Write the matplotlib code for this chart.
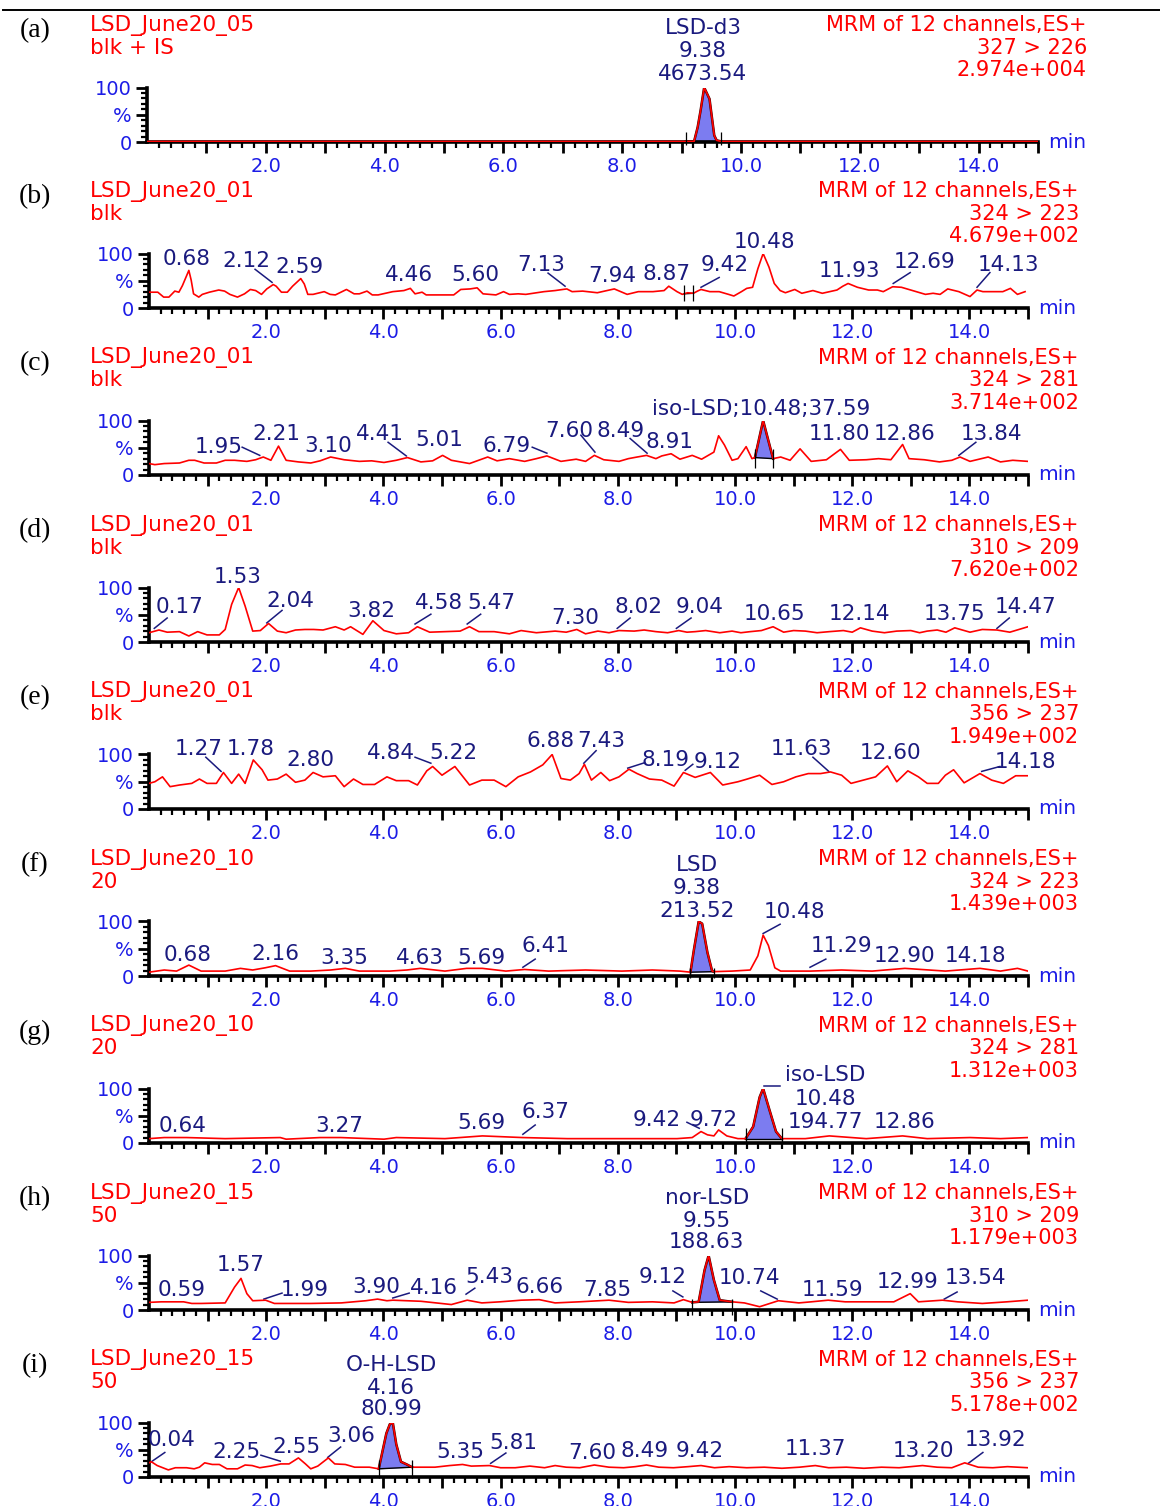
import matplotlib.pyplot as plt
import numpy as np

plt.rcParams['font.family'] = ['DejaVu Sans']

W, H = 1160, 1506
RED = '#ff0000'
NAVY = '#1a1a7e'
BLUE = '#1c1ce6'
FILL = '#7c7cf0'

# retention time (min) and relative intensity (%) of each MRM trace
t_a = [0.0, 9.07, 9.21, 9.27, 9.32, 9.38, 9.47, 9.55, 9.59, 9.67, 15.0]
y_a = [1, 1, 1, 27, 58, 100, 79, 12, 3, 1, 1]

t_b = [0.00, 0.15, 0.25, 0.34, 0.44, 0.51, 0.57, 0.68, 0.72, 0.76,
       0.85, 0.91, 1.03, 1.19, 1.29, 1.38, 1.51, 1.63, 1.73, 1.82,
       1.92, 2.01, 2.12, 2.17, 2.26, 2.36, 2.45, 2.59, 2.65, 2.71,
       2.80, 2.99, 3.09, 3.18, 3.37, 3.50, 3.59, 3.72, 3.81, 3.91,
       4.16, 4.35, 4.46, 4.54, 4.66, 4.73, 4.91, 5.20, 5.32, 5.48,
       5.60, 5.70, 5.92, 6.05, 6.15, 6.30, 6.43, 6.74, 6.93, 7.06,
       7.13, 7.22, 7.40, 7.65, 7.94, 8.16, 8.35, 8.60, 8.79, 8.87,
       9.01, 9.10, 9.19, 9.29, 9.36, 9.42, 9.57, 9.73, 9.89, 9.98,
       10.11, 10.20, 10.30, 10.39, 10.48, 10.58, 10.67, 10.77, 10.86, 11.02,
       11.14, 11.33, 11.49, 11.74, 11.84, 11.93, 12.09, 12.28, 12.43, 12.53,
       12.69, 12.84, 13.03, 13.25, 13.38, 13.50, 13.63, 13.82, 14.01, 14.13,
       14.23, 14.57, 14.70, 14.82, 14.95]
y_b = [29, 29, 20, 20, 31, 29, 41, 69, 51, 26,
       20, 25, 29, 33, 31, 25, 20, 26, 34, 32,
       25, 35, 43, 40, 29, 29, 40, 54, 44, 25,
       25, 30, 25, 24, 34, 26, 26, 31, 24, 24,
       30, 32, 36, 26, 29, 24, 24, 24, 34, 35,
       37, 26, 24, 30, 25, 26, 25, 30, 32, 34,
       35, 30, 31, 28, 35, 25, 30, 30, 32, 40,
       30, 25, 28, 27, 31, 34, 30, 30, 25, 22,
       30, 36, 38, 72, 100, 75, 45, 32, 28, 34,
       27, 32, 27, 33, 40, 45, 38, 33, 33, 30,
       39, 38, 32, 25, 27, 25, 35, 30, 21, 33,
       30, 30, 36, 25, 30]

t_c = [0.00, 0.10, 0.26, 0.52, 0.68, 0.78, 0.94, 1.15, 1.30, 1.46,
       1.67, 1.82, 1.95, 2.08, 2.21, 2.34, 2.55, 2.76, 2.92, 3.10,
       3.33, 3.59, 3.80, 4.01, 4.22, 4.41, 4.64, 4.84, 5.01, 5.16,
       5.47, 5.78, 5.94, 6.15, 6.41, 6.61, 6.79, 7.03, 7.29, 7.45,
       7.60, 7.76, 8.02, 8.18, 8.33, 8.49, 8.65, 8.75, 8.91, 9.06,
       9.27, 9.43, 9.64, 9.72, 9.82, 9.95, 10.05, 10.19, 10.29, 10.34,
       10.48, 10.65, 10.78, 10.94, 11.11, 11.30, 11.56, 11.80, 11.95, 12.24,
       12.45, 12.66, 12.86, 12.97, 13.23, 13.49, 13.70, 13.84, 14.01, 14.32,
       14.53, 14.74, 15.00]
y_c = [21, 19, 21, 22, 27, 27, 22, 22, 27, 27,
       25, 28, 33, 27, 53, 27, 24, 22, 26, 33,
       28, 25, 26, 23, 27, 32, 24, 26, 36, 27,
       21, 33, 26, 30, 25, 30, 35, 25, 29, 25,
       36, 28, 25, 30, 33, 36, 30, 35, 39, 29,
       36, 29, 42, 72, 55, 27, 30, 52, 30, 32,
       100, 30, 33, 27, 48, 25, 28, 47, 27, 28,
       30, 28, 56, 30, 28, 24, 27, 33, 25, 33,
       24, 27, 25]

t_d = [0.00, 0.17, 0.31, 0.52, 0.68, 0.83, 0.99, 1.20, 1.30, 1.41,
       1.53, 1.64, 1.77, 1.90, 2.04, 2.19, 2.34, 2.50, 2.66, 2.81,
       2.97, 3.18, 3.33, 3.44, 3.65, 3.82, 4.01, 4.22, 4.43, 4.58,
       4.79, 5.05, 5.31, 5.47, 5.63, 5.89, 6.15, 6.35, 6.61, 6.93,
       7.12, 7.30, 7.45, 7.66, 7.85, 8.02, 8.28, 8.45, 8.65, 8.85,
       9.04, 9.18, 9.32, 9.50, 9.74, 9.95, 10.10, 10.26, 10.45, 10.65,
       10.83, 11.00, 11.20, 11.40, 11.61, 11.85, 12.00, 12.14, 12.34, 12.55,
       12.76, 13.00, 13.15, 13.28, 13.45, 13.60, 13.75, 14.01, 14.22, 14.47,
       14.69, 15.00]
y_d = [17, 22, 18, 19, 11, 19, 13, 13, 23, 69,
       100, 66, 20, 21, 34, 20, 17, 22, 23, 23,
       22, 28, 22, 28, 14, 39, 21, 15, 17, 28,
       18, 19, 20, 28, 19, 19, 15, 21, 17, 20,
       18, 23, 15, 20, 17, 21, 20, 22, 19, 17,
       21, 18, 19, 21, 17, 20, 17, 19, 21, 28,
       18, 21, 20, 17, 19, 21, 18, 26, 20, 17,
       20, 21, 17, 20, 22, 18, 26, 18, 23, 22,
       18, 28]

t_e = [0.00, 0.10, 0.23, 0.36, 0.52, 0.73, 0.86, 0.99, 1.15, 1.27,
       1.41, 1.53, 1.64, 1.78, 1.93, 2.03, 2.19, 2.34, 2.50, 2.66,
       2.80, 2.97, 3.18, 3.33, 3.49, 3.65, 3.85, 4.06, 4.22, 4.43,
       4.58, 4.74, 4.84, 5.00, 5.22, 5.47, 5.68, 5.89, 6.09, 6.30,
       6.51, 6.72, 6.88, 7.03, 7.19, 7.34, 7.43, 7.55, 7.71, 7.86,
       8.02, 8.19, 8.33, 8.54, 8.75, 8.96, 9.12, 9.32, 9.58, 9.79,
       10.05, 10.21, 10.42, 10.63, 10.83, 11.04, 11.25, 11.46, 11.63, 11.82,
       11.98, 12.19, 12.40, 12.60, 12.76, 12.95, 13.13, 13.28, 13.47, 13.59,
       13.73, 13.91, 14.18, 14.38, 14.58, 14.79, 15.00]
y_e = [47, 50, 59, 41, 44, 47, 55, 47, 47, 67,
       47, 64, 47, 90, 72, 53, 55, 64, 49, 53,
       67, 59, 61, 41, 55, 45, 45, 59, 52, 52,
       44, 70, 78, 62, 78, 44, 53, 53, 41, 59,
       68, 81, 100, 56, 53, 65, 82, 53, 67, 52,
       59, 73, 65, 55, 53, 42, 67, 58, 67, 44,
       50, 55, 62, 45, 50, 59, 65, 65, 68, 62,
       47, 53, 59, 79, 50, 70, 59, 47, 47, 62,
       72, 48, 65, 53, 47, 61, 61]

t_f = [0.00, 0.26, 0.47, 0.68, 0.89, 1.30, 1.56, 1.77, 1.98, 2.16,
       2.40, 2.76, 3.10, 3.35, 3.59, 4.11, 4.40, 4.63, 5.05, 5.42,
       5.69, 6.09, 6.41, 6.82, 7.45, 8.07, 8.59, 9.06, 9.24, 9.30,
       9.38, 9.44, 9.53, 9.61, 9.64, 9.95, 10.26, 10.39, 10.48, 10.57,
       10.68, 10.78, 11.29, 11.82, 12.34, 12.90, 13.59, 14.18, 14.53, 14.82,
       15.00]
y_f = [7, 11, 9, 20, 9, 9, 14, 11, 15, 19,
       9, 9, 11, 14, 9, 9, 11, 14, 9, 14,
       14, 9, 12, 9, 11, 9, 11, 9, 7, 49,
       100, 96, 43, 9, 8, 9, 11, 37, 75, 56,
       15, 9, 9, 11, 9, 14, 9, 14, 9, 14,
       9]

t_g = [0.00, 0.26, 0.64, 1.30, 2.24, 2.34, 2.92, 3.27, 4.01, 4.22,
       5.05, 5.69, 6.37, 7.14, 8.07, 9.01, 9.27, 9.42, 9.53, 9.64,
       9.72, 9.86, 10.05, 10.18, 10.31, 10.42, 10.48, 10.59, 10.70, 10.80,
       11.20, 11.61, 12.24, 12.86, 13.28, 14.01, 14.53, 15.00]
y_g = [8, 10, 10, 8, 10, 7, 10, 10, 7, 10,
       8, 13, 10, 8, 8, 8, 10, 21, 15, 13,
       24, 13, 8, 8, 30, 84, 100, 60, 21, 8,
       8, 13, 8, 13, 8, 10, 8, 10]

t_h = [0.00, 0.21, 0.59, 0.73, 0.89, 1.30, 1.46, 1.57, 1.67, 1.77,
       1.99, 2.14, 2.76, 3.28, 3.70, 3.90, 4.06, 4.16, 4.64, 5.16,
       5.43, 5.68, 5.99, 6.35, 6.66, 6.93, 7.34, 7.85, 8.18, 8.59,
       8.96, 9.12, 9.27, 9.38, 9.48, 9.55, 9.64, 9.74, 9.95, 10.16,
       10.42, 10.74, 11.09, 11.30, 11.59, 11.88, 12.34, 12.71, 12.99, 13.13,
       13.54, 13.80, 14.22, 14.64, 15.00]
y_h = [14, 15, 15, 12, 12, 13, 42, 58, 30, 17,
       18, 12, 12, 13, 17, 20, 17, 18, 16, 10,
       18, 13, 15, 18, 19, 13, 15, 18, 14, 15,
       13, 19, 14, 15, 73, 100, 55, 18, 15, 13,
       6, 17, 13, 15, 18, 15, 15, 15, 30, 15,
       18, 15, 12, 15, 18]

t_i = [0.00, 0.04, 0.14, 0.33, 0.45, 0.64, 0.77, 0.86, 0.95, 1.08,
       1.20, 1.33, 1.51, 1.64, 1.76, 1.89, 2.07, 2.25, 2.39, 2.55,
       2.67, 2.76, 2.88, 3.06, 3.17, 3.35, 3.51, 3.76, 3.92, 3.98,
       4.05, 4.11, 4.16, 4.22, 4.30, 4.40, 4.49, 4.63, 4.88, 5.13,
       5.35, 5.50, 5.81, 6.00, 6.25, 6.50, 6.75, 6.93, 7.12, 7.35,
       7.60, 7.85, 8.10, 8.30, 8.49, 8.70, 8.95, 9.20, 9.42, 9.65,
       9.90, 10.20, 10.50, 10.80, 11.10, 11.37, 11.60, 11.90, 12.20, 12.50,
       12.80, 13.00, 13.20, 13.45, 13.70, 13.92, 14.15, 14.40, 14.65, 15.00]
y_i = [26, 28, 21, 13, 17, 17, 15, 18, 26, 23,
       23, 15, 15, 22, 21, 17, 20, 24, 24, 35,
       24, 15, 20, 35, 24, 23, 18, 18, 15, 45,
       80, 97, 100, 60, 28, 23, 18, 18, 18, 21,
       23, 20, 21, 17, 17, 20, 17, 21, 18, 17,
       22, 18, 17, 19, 22, 18, 17, 19, 21, 17,
       19, 17, 18, 16, 18, 21, 17, 18, 16, 18,
       17, 19, 21, 18, 17, 26, 18, 17, 19, 17]

# header texts
samples = ['LSD_June20_05', 'LSD_June20_01', 'LSD_June20_01', 'LSD_June20_01',
           'LSD_June20_01', 'LSD_June20_10', 'LSD_June20_10', 'LSD_June20_15',
           'LSD_June20_15']
descs = ['blk + IS', 'blk', 'blk', 'blk', 'blk', '20', '20', '50', '50']
transitions = ['327 > 226', '324 > 223', '324 > 281', '310 > 209', '356 > 237',
               '324 > 223', '324 > 281', '310 > 209', '356 > 237']
max_counts = ['2.974e+004', '4.679e+002', '3.714e+002', '7.620e+002', '1.949e+002',
              '1.439e+003', '1.312e+003', '1.179e+003', '5.178e+002']
tags = ['(a)', '(b)', '(c)', '(d)', '(e)', '(f)', '(g)', '(h)', '(i)']

# peak labels: (text, time, height in %)
lab_a = [('LSD-d3', 9.36, 209), ('9.38', 9.36, 167), ('4673.54', 9.36, 124)]
lab_b = [('0.68', 0.65, 89), ('2.12', 1.67, 87), ('2.59', 2.56, 76), ('4.46', 4.44, 60),
         ('5.60', 5.56, 60), ('7.13', 6.69, 78), ('7.94', 7.90, 58), ('8.87', 8.84, 62),
         ('9.42', 9.83, 78), ('10.48', 10.51, 122), ('11.93', 11.95, 67),
         ('12.69', 13.24, 84), ('14.13', 14.66, 78)]
lab_c = [('iso-LSD;10.48;37.59', 10.44, 122), ('1.95', 1.19, 51), ('2.21', 2.17, 75),
         ('3.10', 3.06, 53), ('4.41', 3.94, 75), ('5.01', 4.95, 64), ('6.79', 6.11, 53),
         ('7.60', 7.18, 80), ('8.49', 8.04, 80), ('8.91', 8.89, 60), ('11.80', 11.79, 75),
         ('12.86', 12.90, 76), ('13.84', 14.37, 75)]
lab_d = [('1.53', 1.52, 120), ('0.17', 0.53, 65), ('2.04', 2.41, 76), ('3.82', 3.79, 56),
         ('4.58', 4.95, 71), ('5.47', 5.85, 71), ('7.30', 7.27, 44), ('8.02', 8.36, 65),
         ('9.04', 9.40, 65), ('10.65', 10.67, 51), ('12.14', 12.12, 51),
         ('13.75', 13.75, 51), ('14.47', 14.95, 65)]
lab_e = [('1.27', 0.84, 111), ('1.78', 1.74, 111), ('2.80', 2.76, 89), ('4.84', 4.13, 102),
         ('5.22', 5.20, 102), ('6.88', 6.86, 124), ('7.43', 7.71, 124), ('8.19', 8.82, 89),
         ('9.12', 9.71, 87), ('11.63', 11.13, 111), ('12.60', 12.65, 102),
         ('14.18', 14.95, 87)]
lab_f = [('LSD', 9.35, 204), ('9.38', 9.35, 162), ('213.52', 9.35, 120), ('10.48', 11.02, 118),
         ('0.68', 0.66, 38), ('2.16', 2.15, 40), ('3.35', 3.33, 33), ('4.63', 4.62, 33),
         ('5.69', 5.67, 33), ('6.41', 6.77, 55), ('11.29', 11.81, 55), ('12.90', 12.90, 36),
         ('14.18', 14.11, 36)]
lab_g = [('iso-LSD', 11.54, 124), ('10.48', 11.55, 80), ('194.77', 11.55, 39),
         ('12.86', 12.90, 39), ('0.64', 0.58, 31), ('3.27', 3.24, 31), ('5.69', 5.67, 37),
         ('6.37', 6.76, 56), ('9.42', 8.66, 43), ('9.72', 9.64, 43)]
lab_h = [('nor-LSD', 9.52, 205), ('9.55', 9.52, 164), ('188.63', 9.52, 124), ('1.57', 1.57, 82),
         ('0.59', 0.55, 36), ('1.99', 2.66, 36), ('3.90', 3.87, 42), ('4.16', 4.86, 40),
         ('5.43', 5.80, 60), ('6.66', 6.66, 42), ('7.85', 7.82, 36), ('9.12', 8.76, 60),
         ('10.74', 10.24, 58), ('11.59', 11.66, 36), ('12.99', 12.95, 51),
         ('13.54', 14.11, 58)]
lab_i = [('O-H-LSD', 4.13, 205), ('4.16', 4.13, 164), ('80.99', 4.13, 124), ('0.04', 0.39, 67),
         ('2.25', 1.50, 45), ('2.55', 2.51, 55), ('3.06', 3.45, 76), ('5.35', 5.32, 45),
         ('5.81', 6.21, 62), ('7.60', 7.56, 44), ('8.49', 8.46, 47), ('9.42', 9.40, 47),
         ('11.37', 11.38, 51), ('13.20', 13.21, 47), ('13.92', 14.44, 67)]

# leader lines from label to peak: (t1, y1, t2, y2)
lead_a = []
lead_b = [(1.81, 71, 2.10, 47), (6.81, 64, 7.10, 40), (9.73, 56, 9.42, 38),
          (12.99, 65, 12.70, 45), (14.35, 65, 14.13, 38)]
lead_c = [(1.59, 51, 1.89, 36), (4.08, 60, 4.39, 35), (6.54, 51, 6.79, 40),
          (7.37, 73, 7.61, 42), (8.21, 67, 8.50, 40), (14.11, 60, 13.82, 36)]
lead_d = [(0.31, 44, 0.09, 25), (2.27, 58, 2.01, 35), (4.81, 51, 4.54, 33),
          (5.66, 51, 5.43, 33), (8.21, 44, 7.99, 25), (9.25, 44, 9.00, 25),
          (14.68, 44, 14.47, 25)]
lead_e = [(0.97, 95, 1.23, 69), (4.54, 95, 4.81, 84), (7.63, 107, 7.42, 84),
          (8.46, 85, 8.17, 75), (9.28, 82, 9.15, 71), (11.33, 95, 11.60, 69),
          (14.52, 78, 14.21, 69)]
lead_f = [(10.77, 95, 10.48, 78), (6.59, 31, 6.38, 16), (11.55, 31, 11.28, 16)]
lead_g = [(10.49, 105, 10.77, 105), (6.59, 33, 6.38, 16), (9.18, 38, 9.39, 27)]
lead_h = [(2.27, 31, 1.96, 20), (4.44, 31, 4.16, 22), (5.56, 40, 5.41, 29),
          (8.94, 35, 9.11, 24), (10.44, 35, 10.72, 20), (13.79, 33, 13.57, 20)]
lead_i = [(0.27, 45, 0.0, 25), (1.91, 40, 2.24, 29), (3.27, 55, 3.05, 36),
          (6.09, 44, 5.83, 25), (14.23, 45, 13.98, 25)]

# integrated peaks: (start, end, marker top, marker bottom, shaded)
integ = [(9.07, 9.67, 18, -5, True), (9.13, 9.29, 42, 12, False),
         (10.34, 10.65, 48, 12, True), None, None, (9.24, 9.64, 15, -3, True),
         (10.18, 10.80, 27, 2, True), (9.27, 9.95, 21, -10, True),
         (3.92, 4.49, 32, -2, True)]

traces = [(t_a, y_a), (t_b, y_b), (t_c, y_c), (t_d, y_d), (t_e, y_e),
          (t_f, y_f), (t_g, y_g), (t_h, y_h), (t_i, y_i)]
labels = [lab_a, lab_b, lab_c, lab_d, lab_e, lab_f, lab_g, lab_h, lab_i]
leaders = [lead_a, lead_b, lead_c, lead_d, lead_e, lead_f, lead_g, lead_h, lead_i]

fig = plt.figure(figsize=(W / 100, H / 100), dpi=100)


def fy(ypix):
    return 1 - ypix / H


fig.add_artist(plt.Line2D([0.003, 1.0], [fy(10), fy(10)], color='black', lw=1.4))

major = list(range(1, 16))
minor = [i / 5 for i in range(1, 76) if i % 5]

for k in range(9):
    t, y = traces[k]
    y0 = 142 if k == 0 else 308 + (k - 1) * 167
    left, right = (147, 1038) if k == 0 else (149, 1028)
    ax = fig.add_axes([left / W, fy(y0), (right - left) / W, 54.5 / H])
    ax.set_xlim(0, 15)
    ax.set_ylim(0, 100)

    ax.plot(t, y, color=RED, lw=1.2, zorder=4)

    if integ[k] is not None:
        ts, te, ytop, ybot, shaded = integ[k]
        tt = [ts] + [v for v in t if ts < v < te] + [te]
        yy = np.interp(tt, t, y)
        base = np.interp(tt, [ts, te], [yy[0], yy[-1]])
        if shaded:
            ax.fill_between(tt, base, yy, color=FILL, lw=0, zorder=2)
            ax.plot(tt, yy, color='#300000', lw=1.8, zorder=3)
        ax.plot([ts, te], [yy[0], yy[-1]], color='black', lw=1.0, zorder=3)
        ax.vlines([ts, te], ybot, ytop, color='black', lw=0.9, zorder=5, clip_on=False)

    for txt, lx, ly in labels[k]:
        ax.text(lx, ly, txt, color=NAVY, fontsize=15.5, ha='center', va='center',
                clip_on=False)
    for x1, y1, x2, y2 in leaders[k]:
        ax.plot([x1, x2], [y1, y2], color=NAVY, lw=1.1, clip_on=False)

    for side in ('top', 'right'):
        ax.spines[side].set_visible(False)
    for side in ('left', 'bottom'):
        ax.spines[side].set_linewidth(2.6)

    ax.set_xticks(major)
    ax.set_xticklabels([f'{v:.1f}' if v % 2 == 0 and v < 15 else '' for v in major])
    ax.set_xticks(minor, minor=True)
    ax.set_yticks([0, 50, 100])
    ax.set_yticklabels(['0', '%', '100'])
    ax.set_yticks([10, 20, 30, 40, 60, 70, 80, 90], minor=True)
    ax.tick_params(which='major', length=8, width=2, color='black', labelcolor=BLUE,
                   labelsize=14, pad=3)
    ax.tick_params(which='minor', length=4.5, width=1.6, color='black')
    ax.patch.set_alpha(0)

    ax.text(1.011, 0.0, 'min', transform=ax.transAxes, color=BLUE, fontsize=14.5,
            ha='left', va='center')

    rx = 1087 if k == 0 else 1079
    fig.text(35 / W, fy(y0 - 111), tags[k], family='Liberation Serif', fontsize=20,
             ha='center', va='center')
    fig.text(90 / W, fy(y0 - 117), samples[k], color=RED, fontsize=15.5, va='center')
    fig.text(90 / W, fy(y0 - 94.5), descs[k], color=RED, fontsize=15.5, va='center')
    fig.text(rx / W, fy(y0 - 117), 'MRM of 12 channels,ES+', color=RED, fontsize=15,
             ha='right', va='center')
    fig.text(rx / W, fy(y0 - 94.5), transitions[k], color=RED, fontsize=15,
             ha='right', va='center')
    fig.text(rx / W, fy(y0 - 72), max_counts[k], color=RED, fontsize=15,
             ha='right', va='center')

fig.savefig('out.png', dpi=100)
